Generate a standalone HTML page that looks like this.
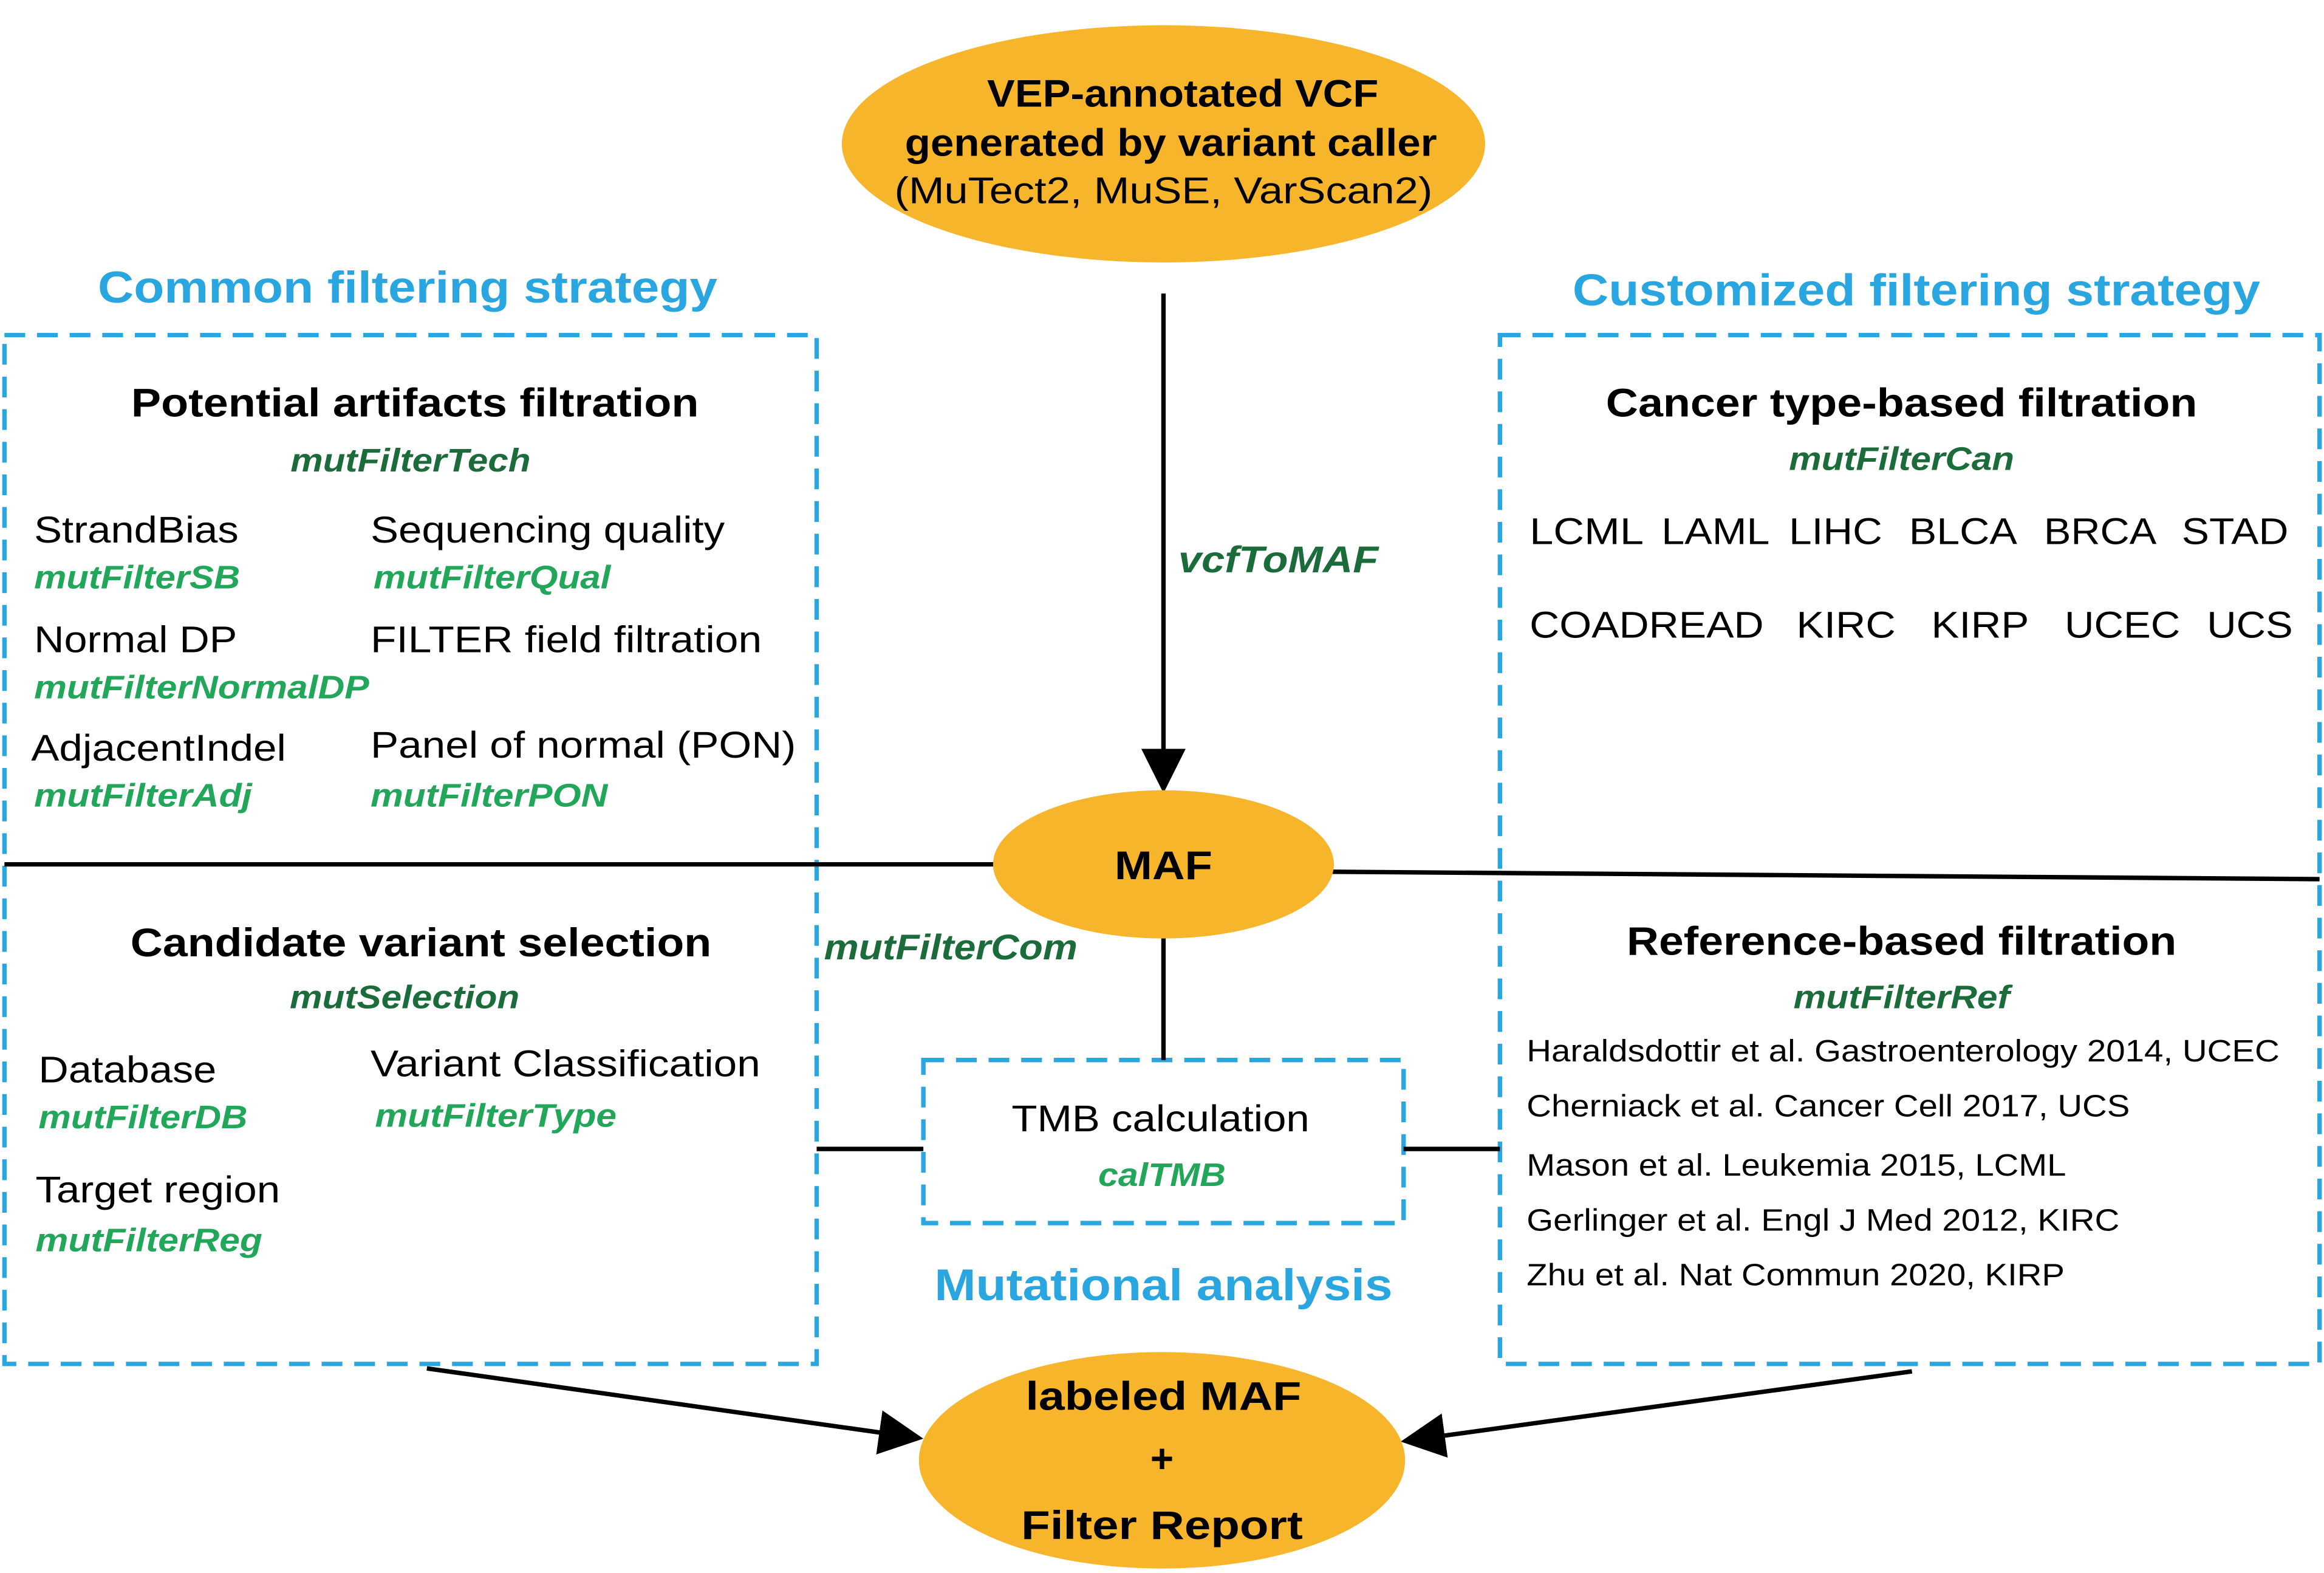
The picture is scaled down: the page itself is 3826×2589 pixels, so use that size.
<!DOCTYPE html>
<html><head><meta charset="utf-8"><style>
html,body{margin:0;padding:0;background:#fff;}
svg{display:block;}
text{font-family:"Liberation Sans",Arial,sans-serif;}
.t{font-size:27px;font-weight:bold;fill:#000;text-anchor:middle;}
.b{font-size:25px;fill:#000;}
.dg{font-size:22px;font-weight:bold;font-style:italic;fill:#1c6b3a;}
.lg{font-size:22px;font-weight:bold;font-style:italic;fill:#22a65a;}
.bl{font-size:30px;font-weight:bold;fill:#29a6e0;text-anchor:middle;}
.r{font-size:21px;fill:#000;}
</style></head><body>
<svg width="3826" height="2589" viewBox="0 0 1568 1061" xmlns="http://www.w3.org/2000/svg">
<defs>
<marker id="ah" viewBox="0 0 10 10" refX="9" refY="5" markerWidth="30" markerHeight="30" markerUnits="userSpaceOnUse" orient="auto"><path d="M0,0 L10,5 L0,10 Z" fill="#000"/></marker></defs>
<rect width="1568" height="1061" fill="#fff"/>
<ellipse cx="785" cy="97" rx="217" ry="80" fill="#f6b52b"/>
<text x="798" y="72" class="t" style="font-size:26px" textLength="264" lengthAdjust="spacingAndGlyphs">VEP-annotated VCF</text>
<text x="790" y="105" class="t" style="font-size:26px" textLength="359" lengthAdjust="spacingAndGlyphs">generated by variant caller</text>
<text x="785" y="137" class="b" text-anchor="middle" textLength="363" lengthAdjust="spacingAndGlyphs">(MuTect2, MuSE, VarScan2)</text>
<text x="275" y="204" class="bl" textLength="418" lengthAdjust="spacingAndGlyphs">Common filtering strategy</text>
<text x="1293" y="206" class="bl" textLength="464" lengthAdjust="spacingAndGlyphs">Customized filtering strategy</text>
<rect x="3" y="226" width="548" height="694" fill="none" stroke="#29a6e0" stroke-width="3" stroke-dasharray="14,8"/>
<rect x="1012" y="226" width="553" height="694" fill="none" stroke="#29a6e0" stroke-width="3" stroke-dasharray="14,8"/>
<rect x="623" y="715" width="324" height="110" fill="none" stroke="#29a6e0" stroke-width="3" stroke-dasharray="14,8"/>
<line x1="785" y1="198" x2="785" y2="532" stroke="#000" stroke-width="3" marker-end="url(#ah)"/>
<text x="795" y="386" class="dg" style="font-size:25px" textLength="135" lengthAdjust="spacingAndGlyphs">vcfToMAF</text>
<line x1="3" y1="583" x2="672" y2="583" stroke="#000" stroke-width="3"/>
<line x1="898" y1="588" x2="1565" y2="593" stroke="#000" stroke-width="3"/>
<line x1="785" y1="630" x2="785" y2="715" stroke="#000" stroke-width="3"/>
<line x1="551" y1="775" x2="623" y2="775" stroke="#000" stroke-width="3"/>
<line x1="947" y1="775" x2="1012" y2="775" stroke="#000" stroke-width="3"/>
<line x1="288" y1="923" x2="620" y2="970" stroke="#000" stroke-width="3" marker-end="url(#ah)"/>
<line x1="1290" y1="925" x2="948" y2="972" stroke="#000" stroke-width="3" marker-end="url(#ah)"/>
<ellipse cx="785" cy="583" rx="115" ry="50" fill="#f6b52b"/>
<text x="785" y="593" class="t" textLength="66" lengthAdjust="spacingAndGlyphs">MAF</text>
<text x="556" y="647" class="dg" style="font-size:24px" textLength="171" lengthAdjust="spacingAndGlyphs">mutFilterCom</text>
<text x="783" y="763" class="b" text-anchor="middle" textLength="201" lengthAdjust="spacingAndGlyphs">TMB calculation</text>
<text x="784" y="800" class="lg" text-anchor="middle" textLength="86" lengthAdjust="spacingAndGlyphs">calTMB</text>
<text x="785" y="877" class="bl" textLength="309" lengthAdjust="spacingAndGlyphs">Mutational analysis</text>
<ellipse cx="784" cy="985" rx="164" ry="73" fill="#f6b52b"/>
<text x="785" y="951" class="t" textLength="186" lengthAdjust="spacingAndGlyphs">labeled MAF</text>
<text x="784" y="993" class="t">+</text>
<text x="784" y="1038" class="t" textLength="190" lengthAdjust="spacingAndGlyphs">Filter Report</text>
<text x="280" y="281" class="t" textLength="383" lengthAdjust="spacingAndGlyphs">Potential artifacts filtration</text>
<text x="277" y="318" class="dg" text-anchor="middle" textLength="162" lengthAdjust="spacingAndGlyphs">mutFilterTech</text>
<text x="23" y="366" class="b" textLength="138" lengthAdjust="spacingAndGlyphs">StrandBias</text>
<text x="23" y="397" class="lg" textLength="139" lengthAdjust="spacingAndGlyphs">mutFilterSB</text>
<text x="250" y="366" class="b" textLength="239" lengthAdjust="spacingAndGlyphs">Sequencing quality</text>
<text x="252" y="397" class="lg" textLength="160" lengthAdjust="spacingAndGlyphs">mutFilterQual</text>
<text x="23" y="440" class="b" textLength="137" lengthAdjust="spacingAndGlyphs">Normal DP</text>
<text x="23" y="471" class="lg" textLength="226" lengthAdjust="spacingAndGlyphs">mutFilterNormalDP</text>
<text x="250" y="440" class="b" textLength="264" lengthAdjust="spacingAndGlyphs">FILTER field filtration</text>
<text x="21" y="513" class="b" textLength="172" lengthAdjust="spacingAndGlyphs">AdjacentIndel</text>
<text x="23" y="544" class="lg" textLength="147" lengthAdjust="spacingAndGlyphs">mutFilterAdj</text>
<text x="250" y="511" class="b" textLength="287" lengthAdjust="spacingAndGlyphs">Panel of normal (PON)</text>
<text x="250" y="544" class="lg" textLength="160" lengthAdjust="spacingAndGlyphs">mutFilterPON</text>
<text x="284" y="645" class="t" textLength="392" lengthAdjust="spacingAndGlyphs">Candidate variant selection</text>
<text x="273" y="680" class="dg" text-anchor="middle" textLength="155" lengthAdjust="spacingAndGlyphs">mutSelection</text>
<text x="26" y="730" class="b" textLength="120" lengthAdjust="spacingAndGlyphs">Database</text>
<text x="26" y="761" class="lg" textLength="141" lengthAdjust="spacingAndGlyphs">mutFilterDB</text>
<text x="250" y="726" class="b" textLength="263" lengthAdjust="spacingAndGlyphs">Variant Classification</text>
<text x="253" y="760" class="lg" textLength="163" lengthAdjust="spacingAndGlyphs">mutFilterType</text>
<text x="24" y="811" class="b" textLength="165" lengthAdjust="spacingAndGlyphs">Target region</text>
<text x="24" y="844" class="lg" textLength="153" lengthAdjust="spacingAndGlyphs">mutFilterReg</text>
<text x="1283" y="281" class="t" textLength="399" lengthAdjust="spacingAndGlyphs">Cancer type-based filtration</text>
<text x="1283" y="317" class="dg" text-anchor="middle" textLength="152" lengthAdjust="spacingAndGlyphs">mutFilterCan</text>
<g class="b">
<text x="1032" y="367" class="b" textLength="77" lengthAdjust="spacingAndGlyphs">LCML</text>
<text x="1121" y="367" class="b" textLength="73" lengthAdjust="spacingAndGlyphs">LAML</text>
<text x="1207" y="367" class="b" textLength="63" lengthAdjust="spacingAndGlyphs">LIHC</text>
<text x="1288" y="367" class="b" textLength="73" lengthAdjust="spacingAndGlyphs">BLCA</text>
<text x="1379" y="367" class="b" textLength="76" lengthAdjust="spacingAndGlyphs">BRCA</text>
<text x="1472" y="367" class="b" textLength="72" lengthAdjust="spacingAndGlyphs">STAD</text>
<text x="1032" y="430" class="b" textLength="158" lengthAdjust="spacingAndGlyphs">COADREAD</text>
<text x="1212" y="430" class="b" textLength="67" lengthAdjust="spacingAndGlyphs">KIRC</text>
<text x="1303" y="430" class="b" textLength="66" lengthAdjust="spacingAndGlyphs">KIRP</text>
<text x="1393" y="430" class="b" textLength="78" lengthAdjust="spacingAndGlyphs">UCEC</text>
<text x="1489" y="430" class="b" textLength="58" lengthAdjust="spacingAndGlyphs">UCS</text>
</g>
<text x="1283" y="644" class="t" textLength="371" lengthAdjust="spacingAndGlyphs">Reference-based filtration</text>
<text x="1283" y="680" class="dg" text-anchor="middle" textLength="146" lengthAdjust="spacingAndGlyphs">mutFilterRef</text>
<text x="1030" y="716" class="r" textLength="508" lengthAdjust="spacingAndGlyphs">Haraldsdottir et al. Gastroenterology 2014, UCEC</text>
<text x="1030" y="753" class="r" textLength="407" lengthAdjust="spacingAndGlyphs">Cherniack et al. Cancer Cell 2017, UCS</text>
<text x="1030" y="793" class="r" textLength="364" lengthAdjust="spacingAndGlyphs">Mason et al. Leukemia 2015, LCML</text>
<text x="1030" y="830" class="r" textLength="400" lengthAdjust="spacingAndGlyphs">Gerlinger et al. Engl J Med 2012, KIRC</text>
<text x="1030" y="867" class="r" textLength="363" lengthAdjust="spacingAndGlyphs">Zhu et al. Nat Commun 2020, KIRP</text>
</svg>
</body></html>
